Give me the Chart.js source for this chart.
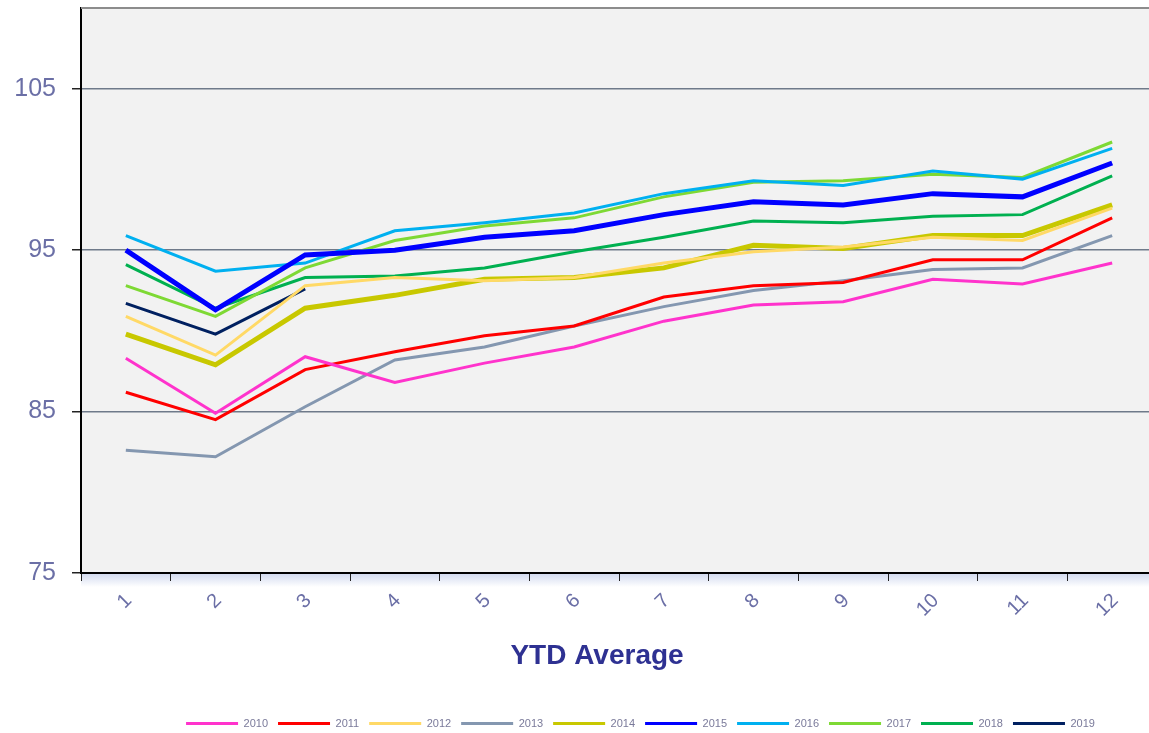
<!DOCTYPE html>
<html>
<head>
<meta charset="utf-8">
<script src="https://cdn.jsdelivr.net/npm/chart.js@4.4.1/dist/chart.umd.min.js"></script>
<style>
  html, body { margin: 0; padding: 0; background: #fff; overflow: hidden; }
  #wrap { width: 1280px; height: 733px; }
</style>
</head>
<body>
<div id="wrap"><canvas id="graph" width="1280" height="733"></canvas></div>
<script>
// months of the year, YTD average per year
const months = ['1', '2', '3', '4', '5', '6', '7', '8', '9', '10', '11', '12'];
const yTicks = [75, 85, 95, 105];

const y2010 = [88.3, 84.9, 88.4, 86.8, 88.0, 89.0, 90.6, 91.6, 91.8, 93.2, 92.9, 94.2];
const y2011 = [86.2, 84.5, 87.6, 88.7, 89.7, 90.3, 92.1, 92.8, 93.0, 94.4, 94.4, 97.0];
const y2012 = [90.9, 88.5, 92.8, 93.3, 93.1, 93.3, 94.2, 94.9, 95.2, 95.8, 95.6, 97.6];
const y2013 = [82.6, 82.2, 85.3, 88.2, 89.0, 90.3, 91.5, 92.5, 93.1, 93.8, 93.9, 95.9];
const y2014 = [89.8, 87.9, 91.4, 92.2, 93.2, 93.3, 93.9, 95.3, 95.1, 95.9, 95.9, 97.8];
const y2015 = [95.0, 91.3, 94.7, 95.0, 95.8, 96.2, 97.2, 98.0, 97.8, 98.5, 98.3, 100.4];
const y2016 = [95.9, 93.7, 94.2, 96.2, 96.7, 97.3, 98.5, 99.3, 99.0, 99.9, 99.4, 101.3];
const y2017 = [92.8, 90.9, 93.9, 95.6, 96.5, 97.0, 98.3, 99.2, 99.3, 99.7, 99.5, 101.7];
const y2018 = [94.1, 91.4, 93.3, 93.4, 93.9, 94.9, 95.8, 96.8, 96.7, 97.1, 97.2, 99.6];
const y2019 = [91.7, 89.8, 92.6];

const tickColor = '#6b6fa6';

function line(label, data, color, width) {
  return {
    label: label,
    data: data,
    borderColor: color,
    backgroundColor: color,
    borderWidth: width,
    pointRadius: 0,
    tension: 0
  };
}

// hintergrund, obere linie, schatten unter der x-achse, titel
const frame = {
  id: 'frame',
  afterLayout(chart) {
    // legende etwas nach rechts und unten schieben
    const lg = chart.legend;
    lg.left += 62; lg.right += 62;
    lg.top += 6; lg.bottom += 6;
  },
  beforeDraw(chart) {
    const { ctx, chartArea: a } = chart;
    ctx.save();
    ctx.fillStyle = '#f2f2f2';
    ctx.fillRect(a.left, a.top, a.right - a.left, a.bottom - a.top);
    const g = ctx.createLinearGradient(0, a.bottom, 0, a.bottom + 14);
    g.addColorStop(0, 'rgba(170,185,225,0.55)');
    g.addColorStop(1, 'rgba(170,185,225,0)');
    ctx.fillStyle = g;
    ctx.fillRect(a.left, a.bottom, a.right - a.left, 14);
    ctx.restore();
  },
  afterDraw(chart) {
    const { ctx, chartArea: a } = chart;
    ctx.save();
    ctx.strokeStyle = '#8c8c8c';
    ctx.lineWidth = 2;
    ctx.beginPath();
    ctx.moveTo(a.left, a.top);
    ctx.lineTo(a.right, a.top);
    ctx.stroke();
    ctx.fillStyle = '#2e3192';
    ctx.font = 'bold 28px "Liberation Sans", Arial, sans-serif';
    ctx.textAlign = 'center';
    ctx.textBaseline = 'middle';
    ctx.fillText('YTD Average', a.left + 516, 656);
    ctx.restore();
  }
};

const ctx = document.getElementById('graph').getContext('2d');
new Chart(ctx, {
  type: 'line',
  data: {
    labels: months,
    datasets: [
      line('2010', y2010, '#ff33cc', 3),
      line('2011', y2011, '#ff0000', 3),
      line('2012', y2012, '#ffd966', 3),
      line('2013', y2013, '#8497b0', 3),
      line('2014', y2014, '#c8c800', 5),
      line('2015', y2015, '#0000ff', 5),
      line('2016', y2016, '#00b0f0', 3),
      line('2017', y2017, '#7ed934', 3),
      line('2018', y2018, '#00b050', 3),
      line('2019', y2019, '#002060', 3)
    ]
  },
  plugins: [frame],
  options: {
    responsive: false,
    animation: false,
    devicePixelRatio: 1,
    layout: { padding: { left: 0, top: 8, right: 123, bottom: 0 } },
    plugins: {
      tooltip: { enabled: false },
      title: { display: false },
      legend: {
        position: 'bottom',
        labels: {
          color: '#7a7a9a',
          font: { size: 11, family: '"Liberation Sans", Arial, sans-serif' },
          usePointStyle: true,
          pointStyle: 'line',
          pointStyleWidth: 52,
          padding: 10,
          generateLabels(chart) {
            const items = Chart.defaults.plugins.legend.labels.generateLabels(chart);
            items.forEach(i => { i.lineWidth = 3; i.pointStyle = 'line'; });
            return items;
          }
        }
      }
    },
    scales: {
      x: {
        offset: true,
        afterFit(scale) {
          scale.height = 129;
          scale.paddingLeft = 0;
          scale.paddingRight = 0;
        },
        grid: {
          offset: true,
          drawOnChartArea: false,
          drawTicks: true,
          tickLength: 8,
          tickColor: '#222'
        },
        border: { display: true, color: '#000', width: 2 },
        ticks: {
          color: tickColor,
          minRotation: 45,
          maxRotation: 45,
          labelOffset: 3,
          padding: 8,
          font: { size: 20, family: '"Liberation Sans", Arial, sans-serif' }
        }
      },
      y: {
        min: 75,
        max: 110,
        afterFit(scale) {
          scale.width = 81;
          scale.paddingTop = 0;
          scale.paddingBottom = 0;
        },
        afterBuildTicks(scale) { scale.ticks = yTicks.map(v => ({ value: v })); },
        grid: {
          color: c => (c.tick && c.tick.value > 75) ? '#6f7a8a' : 'rgba(0,0,0,0)',
          lineWidth: 1.5,
          tickColor: '#222',
          tickLength: 9
        },
        border: { display: true, color: '#000', width: 2 },
        ticks: {
          color: tickColor,
          padding: 16,
          font: { size: 25, family: '"Liberation Sans", Arial, sans-serif' }
        }
      }
    }
  }
});
</script>
</body>
</html>
